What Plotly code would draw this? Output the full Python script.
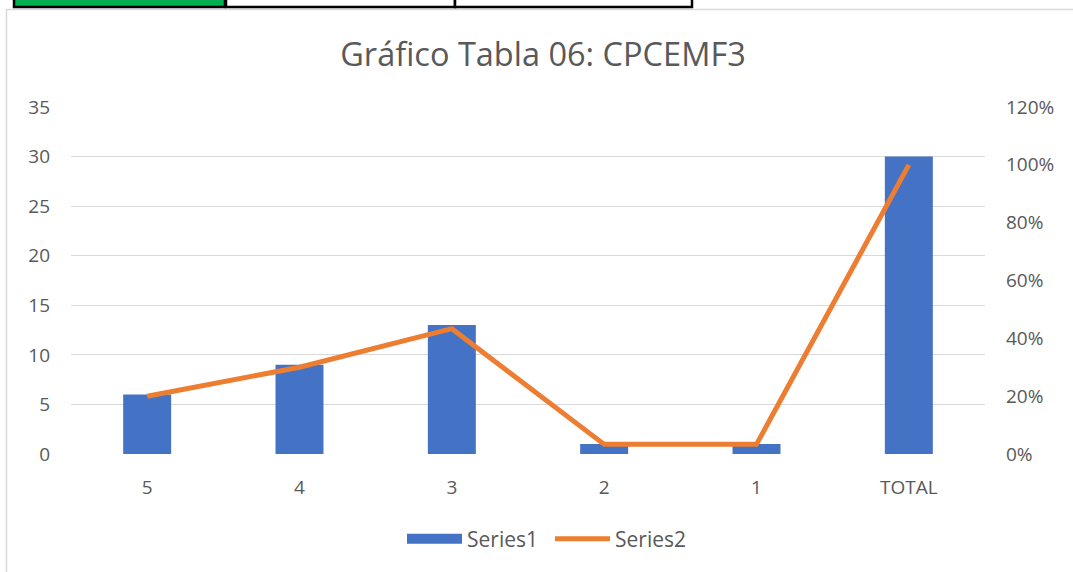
import plotly.graph_objects as go

categories = ["5", "4", "3", "2", "1", "TOTAL"]
series1 = [6, 9, 13, 1, 1, 30]
series2 = [0.20, 0.30, 0.4333, 0.0333, 0.0333, 1.00]
left_ticks = [0, 5, 10, 15, 20, 25, 30, 35]
right_ticks = [0, 0.2, 0.4, 0.6, 0.8, 1.0, 1.2]
right_labels = ["0%", "20%", "40%", "60%", "80%", "100%", "120%"]

W, H = 1073, 572
L, R, T, B = 71, 88, 107, 118
pw, ph = W - L - R, H - T - B

def px(x):
    return (x - L) / pw

def py(y):
    return (H - B - y) / ph

FONT = "Open Sans"
GRAY = "#595959"
TS = 19

fig = go.Figure()
fig.add_trace(go.Bar(x=categories, y=series1, name="Series1",
                     marker=dict(color="#4472C4", line=dict(width=0)),
                     yaxis="y", showlegend=False))
# legend swatch for Series1 (rectangle-like)
fig.add_trace(go.Scatter(x=[None], y=[None], name="Series1", mode="lines",
                         line=dict(color="#4472C4", width=14), yaxis="y"))
fig.add_trace(go.Scatter(x=categories, y=series2, name="Series2", mode="lines",
                         line=dict(color="#ED7D31", width=5),
                         yaxis="y2"))

shapes = [
    dict(type="rect", xref="paper", yref="paper",
         x0=px(6.5), x1=px(1080), y0=py(9.5), y1=py(580),
         line=dict(color="#D9D9D9", width=1.5), fillcolor="rgba(0,0,0,0)", layer="below"),
    dict(type="rect", xref="paper", yref="paper",
         x0=px(14), x1=px(225), y0=py(-5), y1=py(7),
         line=dict(color="black", width=2.5), fillcolor="#00B050"),
    dict(type="rect", xref="paper", yref="paper",
         x0=px(226), x1=px(455), y0=py(-5), y1=py(7),
         line=dict(color="black", width=2.5), fillcolor="white"),
    dict(type="rect", xref="paper", yref="paper",
         x0=px(455), x1=px(692), y0=py(-5), y1=py(7),
         line=dict(color="black", width=2.5), fillcolor="white"),
]

fig.update_layout(
    width=W, height=H,
    margin=dict(l=L, r=R, t=T, b=B, autoexpand=False),
    paper_bgcolor="white", plot_bgcolor="white",
    font=dict(family=FONT, color=GRAY, size=TS),
    title=dict(text="Gráfico Tabla 06: CPCEMF3", x=543 / W, xanchor="center",
               y=1 - 55 / H, yanchor="middle",
               font=dict(size=32.5, color=GRAY, family=FONT)),
    bargap=0.685,
    xaxis=dict(type="category", showgrid=False, showline=False, ticks="",
               automargin=False,
               tickfont=dict(size=TS, color=GRAY), ticklabelstandoff=20),
    yaxis=dict(range=[0, 35], tickvals=left_ticks, showgrid=True, automargin=False,
               gridcolor="#D9D9D9", gridwidth=1, zeroline=False, showline=False,
               ticks="", tickfont=dict(size=TS, color=GRAY), ticklabelstandoff=20),
    yaxis2=dict(range=[0, 1.2], tickvals=right_ticks, ticktext=right_labels,
                overlaying="y", side="right", showgrid=False, zeroline=False,
                automargin=False,
                showline=False, ticks="", tickfont=dict(size=TS, color=GRAY),
                ticklabelstandoff=20),
    legend=dict(orientation="h", x=px(402), xanchor="left", y=py(539), yanchor="middle",
                font=dict(size=21, color=GRAY), itemwidth=55, traceorder="normal",
                entrywidth=78, entrywidthmode="pixels"),
    shapes=shapes,
)

fig.write_html("out.html", config={"displayModeBar": False},
               post_script="document.body.style.margin='0';")
